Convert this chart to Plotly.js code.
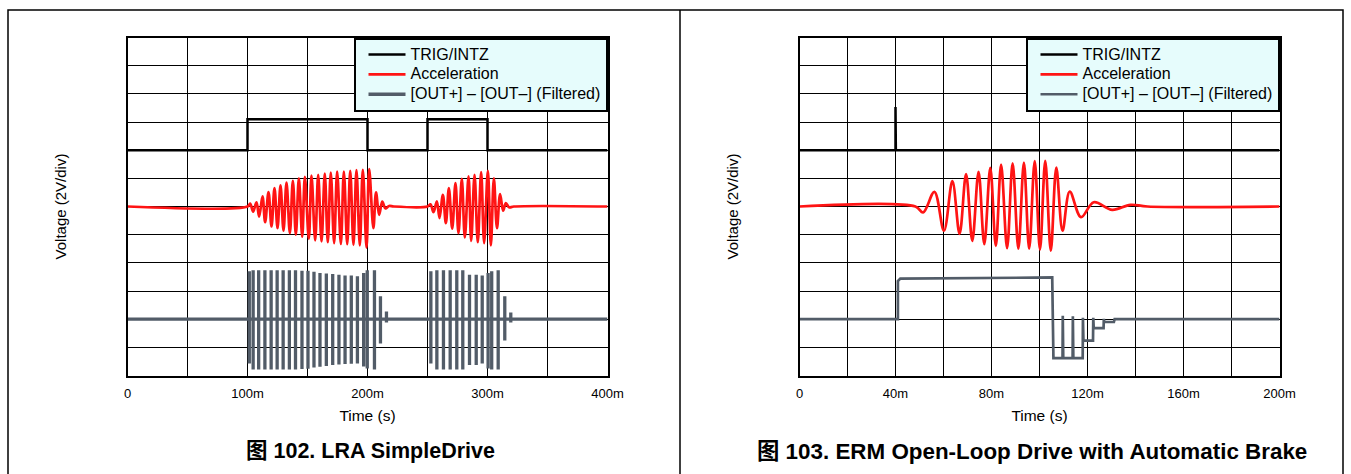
<!DOCTYPE html>
<html>
<head>
<meta charset="utf-8">
<script src="https://cdn.plot.ly/plotly-3.0.1.min.js"></script>
<style>
html,body{margin:0;padding:0;background:#fff;}
#chart{width:1351px;height:474px;}
/* legend text is drawn larger than the size used for row spacing, as in the reference */
text.legendtext, text.legend2text{font-size:16px !important;}
</style>
</head>
<body>
<div id="chart"></div>
<script>
// ---------- Data (values in divisions of 2 V, relative to each trace's own baseline) ----------
// Figure 102 – LRA SimpleDrive (time in ms)
const xTickValsL = [0, 50, 100, 150, 200, 250, 300, 350, 400];
const xTickTextL = ['0', '', '100m', '', '200m', '', '300m', '', '400m'];

const trigL_t = [0, 100, 100, 200, 200, 250, 250, 300, 300, 400];
const trigL_v = [0, 0, 1.1, 1.1, 0, 0, 1.1, 1.1, 0, 0];

const accL_t = [0, 100, 102.2, 104.7, 107.5, 109.7, 112.5, 114.7, 117.5, 120, 122.5, 125, 127.5, 130, 132.5,
  135.3, 137.8, 140.3, 142.8, 145.6, 147.8, 151.1, 153.3, 156.4, 158.9, 161.7, 164.4, 166.9, 169.4, 172.2,
  174.7, 177.8, 180.3, 183.1, 185.6, 188.3, 190.8, 193.6, 196.1, 199.2, 201.4, 204.9, 207.1, 209.7, 212.3,
  215, 218, 222,
  250, 252.5, 255, 257.8, 260, 262.8, 265.3, 267.8, 270.6, 273.3, 275.8, 278.6, 281.1, 284.2, 286.4, 289.2,
  291.9, 294.7, 297.2, 300.3, 302.8, 305.3, 307.9, 310.5, 313, 315.3, 318, 322, 400];
const accL_v = [0, 0, 0.1, -0.18, 0.15, -0.36, 0.36, -0.56, 0.51, -0.71, 0.65, -0.77, 0.75, -0.86, 0.85,
  -0.95, 0.91, -1.0, 1.0, -1.07, 1.05, -1.15, 1.1, -1.2, 1.12, -1.24, 1.17, -1.27, 1.2, -1.3,
  1.24, -1.33, 1.24, -1.34, 1.27, -1.36, 1.29, -1.38, 1.3, -1.46, 1.33, -0.77, 0.5, -0.3, 0.17,
  -0.07, 0.02, 0,
  0, 0.08, -0.2, 0.18, -0.41, 0.41, -0.59, 0.65, -0.79, 0.83, -0.95, 0.98, -1.1, 1.07, -1.22, 1.12,
  -1.27, 1.22, -1.3, 1.27, -1.38, 1.0, -0.77, 0.44, -0.15, 0.12, -0.03, 0, 0];

// filtered output: one bipolar pulse per drive cycle (time, positive peak, negative peak)
const outL_t = [101.5, 104.7, 109.3, 114.5, 119.7, 124.7, 129.7, 134.9, 140, 145.4, 150.4, 155.4, 160.4,
  165.7, 171, 176.2, 181.3, 186.5, 191.6, 196.8, 199.8, 205.8, 210.8, 215.8,
  252.8, 257.8, 263.3, 268.9, 274.4, 279.4, 285, 290.6, 295.6, 300.5, 303.5, 308.9, 314.4, 319.4];
const outL_hi = [1.70, 1.74, 1.74, 1.74, 1.74, 1.74, 1.74, 1.74, 1.74, 1.72, 1.72, 1.68, 1.64,
  1.62, 1.6, 1.58, 1.55, 1.55, 1.52, 1.64, 1.74, 1.74, 0.81, 0.27,
  1.70, 1.74, 1.74, 1.74, 1.74, 1.74, 1.58, 1.58, 1.55, 1.64, 1.70, 1.74, 0.81, 0.24];
const outL_lo = [-1.57, -1.79, -1.79, -1.79, -1.79, -1.79, -1.79, -1.79, -1.79, -1.77, -1.76, -1.72, -1.69,
  -1.66, -1.63, -1.61, -1.59, -1.58, -1.57, -1.68, -1.75, -1.79, -0.86, -0.12,
  -1.57, -1.79, -1.79, -1.79, -1.79, -1.79, -1.63, -1.63, -1.57, -1.75, -1.79, -1.79, -0.76, -0.12];

// Figure 103 – ERM Open-Loop Drive with Automatic Brake (time in ms)
const xTickValsR = [0, 20, 40, 60, 80, 100, 120, 140, 160, 180, 200];
const xTickTextR = ['0', '', '40m', '', '80m', '', '120m', '', '160m', '', '200m'];

const trigR_t = [0, 40, 40, 40.15, 200];
const trigR_v = [0, 0, 1.53, 0, 0];

const accR_t = [0, 48.3, 51.5, 56.2, 60.2, 63.7, 66.7, 69.4, 72, 74.6, 77, 79.5, 81.8, 84, 86.5, 88.8,
  91.2, 93.5, 95.7, 98, 100.2, 102.4, 104.7, 107, 109.6, 112.6, 117.3, 122.6, 130.3, 137.9, 145, 200];
const accR_v = [0, 0, -0.21, 0.52, -0.86, 0.9, -0.97, 1.15, -1.22, 1.23, -1.34, 1.37, -1.4, 1.49, -1.48, 1.53,
  -1.5, 1.56, -1.5, 1.61, -1.53, 1.62, -1.57, 1.38, -0.86, 0.53, -0.38, 0.15, -0.12, 0.06, 0, 0];

const outR_t = [0, 41, 41, 42, 105.3, 105.8, 109.6, 109.7, 109.9, 113.8, 113.9, 114.1, 118.0, 118.1, 118.3,
  122.3, 122.4, 122.6, 126.7, 126.8, 127.0, 131, 131.3, 200];
const outR_v = [0, 0, 1.35, 1.44, 1.48, -1.38, -1.38, 0.12, -1.38, -1.38, 0.1, -1.38, -1.38, 0.05, -0.76,
  -0.76, 0.05, -0.32, -0.32, 0.01, -0.1, -0.1, 0, 0];

const seriesNames = ['TRIG/INTZ', 'Acceleration', '[OUT+] \u2013 [OUT\u2013] (Filtered)'];

// ---------- Layout helpers ----------
const W = 1351, H = 474;
const px = v => v / W, py = v => (H - v) / H;
const OFF = { trig: 8, acc: 6, out: 2 };   // baseline position of each trace (divisions)
const C = { trig: '#000000', acc: '#ff1414', out: '#525c68' };
const FONT = '"Liberation Sans", Arial, "Noto Sans CJK SC", sans-serif';

function shift(arr, off) { return arr.map(v => v + off); }
function pulses(ts, hi, lo, tEnd) {
  const x = [0], y = [0];
  ts.forEach((t, i) => { x.push(t, t, t, t); y.push(0, hi[i], lo[i], 0); });
  x.push(tEnd); y.push(0);
  return { x, y };
}
const outL = pulses(outL_t, outL_hi, outL_lo, 400);

const traces = [
  { x: trigL_t, y: shift(trigL_v, OFF.trig), name: seriesNames[0], xaxis: 'x', yaxis: 'y', legend: 'legend',
    mode: 'lines', line: { color: C.trig, width: 2.5 } },
  { x: accL_t, y: shift(accL_v, OFF.acc), name: seriesNames[1], xaxis: 'x', yaxis: 'y', legend: 'legend',
    mode: 'lines', line: { color: C.acc, width: 2.7, shape: 'spline', smoothing: 1 } },
  { x: outL.x, y: shift(outL.y, OFF.out), name: seriesNames[2], xaxis: 'x', yaxis: 'y', legend: 'legend',
    mode: 'lines', line: { color: C.out, width: 3.3 } },
  { x: trigR_t, y: shift(trigR_v, OFF.trig), name: seriesNames[0], xaxis: 'x2', yaxis: 'y2', legend: 'legend2',
    mode: 'lines', line: { color: C.trig, width: 2.5 } },
  { x: accR_t, y: shift(accR_v, OFF.acc), name: seriesNames[1], xaxis: 'x2', yaxis: 'y2', legend: 'legend2',
    mode: 'lines', line: { color: C.acc, width: 2.7, shape: 'spline', smoothing: 1 } },
  { x: outR_t, y: shift(outR_v, OFF.out), name: seriesNames[2], xaxis: 'x2', yaxis: 'y2', legend: 'legend2',
    mode: 'lines', line: { color: C.out, width: 2.7 } }
];

function xAxis(domain, range, tv, tt, anchor) {
  return { domain, range, anchor, tickmode: 'array', tickvals: tv, ticktext: tt, ticks: '',
    ticklabelstandoff: 5,
    showgrid: true, gridcolor: '#000', gridwidth: 1, zeroline: false,
    showline: true, mirror: true, linecolor: '#000', linewidth: 2,
    tickfont: { family: FONT, size: 13, color: '#000' },
    title: { text: 'Time (s)', font: { family: FONT, size: 15.5, color: '#000' }, standoff: 10 } };
}
function yAxis(domain, anchor) {
  return { domain, range: [0, 12], anchor, dtick: 1, tick0: 0, showticklabels: false, ticks: '',
    showgrid: true, gridcolor: '#000', gridwidth: 1, zeroline: false,
    showline: true, mirror: true, linecolor: '#000', linewidth: 2,
    title: { text: 'Voltage (2V/div)', font: { family: FONT, size: 15, color: '#000' }, standoff: 55 } };
}
function legendBox(xr) {
  return { x: px(xr), xanchor: 'right', y: py(37.5), yanchor: 'top', bgcolor: '#e6fcfc',
    bordercolor: '#000', borderwidth: 2, font: { family: FONT, size: 13, color: '#000' },
    itemwidth: 37, indentation: 8, tracegroupgap: 0 };
}

const yDom = [py(375.5), py(37.5)];
const layout = {
  width: W, height: H, margin: { l: 0, r: 0, t: 0, b: 0 },
  paper_bgcolor: '#fff', plot_bgcolor: '#fff', showlegend: true,
  xaxis: xAxis([px(127.5), px(607.5)], [0, 400], xTickValsL, xTickTextL, 'y'),
  yaxis: yAxis(yDom, 'x'),
  xaxis2: xAxis([px(799.5), px(1279.5)], [0, 200], xTickValsR, xTickTextR, 'y2'),
  yaxis2: yAxis(yDom, 'x2'),
  legend: legendBox(607.5),
  legend2: legendBox(1279.5),
  shapes: [
    { type: 'rect', xref: 'paper', yref: 'paper', x0: px(8), x1: px(1343), y0: -0.2, y1: py(10),
      line: { color: '#000', width: 1.5 } },
    { type: 'line', xref: 'paper', yref: 'paper', x0: px(680), x1: px(680), y0: -0.2, y1: py(10),
      line: { color: '#000', width: 1.5 } }
  ],
  annotations: [
    { xref: 'paper', yref: 'paper', x: px(371), y: py(451), xanchor: 'center', yanchor: 'middle', showarrow: false,
      text: '<b>图 102. LRA SimpleDrive</b>', font: { family: FONT, size: 21.5, color: '#000' } },
    { xref: 'paper', yref: 'paper', x: px(1032), y: py(451), xanchor: 'center', yanchor: 'middle', showarrow: false,
      text: '<b>图 103. ERM Open-Loop Drive with Automatic Brake</b>', font: { family: FONT, size: 22.4, color: '#000' } }
  ]
};

Plotly.newPlot('chart', traces, layout, { staticPlot: true, displayModeBar: false });
</script>
</body>
</html>
